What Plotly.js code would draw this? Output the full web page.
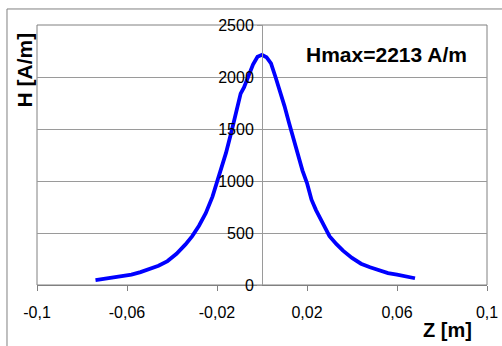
<!DOCTYPE html>
<html>
<head>
<meta charset="utf-8">
<script src="https://cdn.plot.ly/plotly-3.0.1.min.js"></script>
<style>html,body{margin:0;padding:0;background:#fff;}#chart{width:502px;height:346px;}</style>
</head>
<body>
<div id="chart"></div>
<script>
var zValues = [-0.074, -0.070, -0.066, -0.062, -0.058, -0.054, -0.050, -0.046, -0.042, -0.038, -0.034, -0.031, -0.028, -0.025, -0.022, -0.020, -0.018, -0.016, -0.0135, -0.011, -0.0095, -0.008, -0.006, -0.004, -0.002, 0, 0.002, 0.004, 0.006, 0.008, 0.010, 0.012, 0.014, 0.016, 0.018, 0.020, 0.022, 0.024, 0.026, 0.028, 0.030, 0.033, 0.036, 0.040, 0.044, 0.048, 0.052, 0.056, 0.060, 0.064, 0.068];
var hValues = [48, 60, 75, 85, 100, 124, 155, 185, 230, 300, 390, 470, 570, 690, 850, 990, 1120, 1270, 1480, 1700, 1840, 1900, 2000, 2120, 2195, 2213, 2190, 2130, 2000, 1870, 1720, 1560, 1400, 1250, 1100, 980, 820, 720, 640, 545, 470, 395, 330, 260, 205, 170, 140, 115, 100, 85, 65];
var xTickVals = [-0.1, -0.06, -0.02, 0.02, 0.06, 0.1];
var xTickText = ["-0,1", "-0,06", "-0,02", "0,02", "0,06", "0,1"];
var yTickVals = [0, 500, 1000, 1500, 2000, 2500];
var xTitle = "Z [m]";
var yTitle = "H [A/m]";
var note = "Hmax=2213 A/m";

var font = "Liberation Sans, Arial, sans-serif";
var trace = {
  x: zValues, y: hValues, type: "scatter", mode: "lines",
  line: {color: "#0000FF", width: 3.8}, hoverinfo: "none"
};
var layout = {
  width: 502, height: 346,
  margin: {l: 37, r: 15, t: 25, b: 61},
  paper_bgcolor: "#ffffff", plot_bgcolor: "#ffffff",
  showlegend: false,
  font: {family: font, size: 16, color: "#000"},
  xaxis: {
    range: [-0.1, 0.1], tickvals: xTickVals, ticktext: xTickText,
    showgrid: false, zeroline: false, showline: true, linecolor: "#808080", linewidth: 1,
    ticks: "outside", ticklen: 5, tickcolor: "#808080", ticklabelstandoff: 8,
    tickfont: {family: font, size: 16, color: "#000"}
  },
  yaxis: {
    range: [0, 2500], tickvals: yTickVals,
    anchor: "free", position: 0.5, side: "left",
    showgrid: true, gridcolor: "#9a9a9a", gridwidth: 1,
    zeroline: false, showline: true, linecolor: "#9a9a9a", linewidth: 1,
    ticks: "outside", ticklen: 5, tickcolor: "#9a9a9a",
    tickfont: {family: font, size: 16, color: "#000"}
  },
  shapes: [
    {type: "rect", xref: "paper", yref: "paper", x0: 0, x1: 1, y0: 0, y1: 1,
     line: {color: "#808080", width: 1}, layer: "below"},
    {type: "line", xref: "paper", yref: "paper", x0: -0.0667, x1: -0.0667, y0: -0.3, y1: 1.0616,
     line: {color: "#808080", width: 1}, layer: "below"},
    {type: "line", xref: "paper", yref: "paper", x0: -0.0667, x1: 1.1, y0: 1.0616, y1: 1.0616,
     line: {color: "#808080", width: 1}, layer: "below"}
  ],
  annotations: [
    {text: "<b>" + note + "</b>", xref: "paper", yref: "paper", x: 0.7756, y: 0.885,
     xanchor: "center", yanchor: "middle", showarrow: false,
     font: {family: font, size: 21, color: "#000"}},
    {text: "<b>" + xTitle + "</b>", xref: "paper", yref: "paper", x: 0.913, y: -0.174,
     xanchor: "center", yanchor: "middle", showarrow: false,
     font: {family: font, size: 20, color: "#000"}},
    {text: "<b>" + yTitle + "</b>", xref: "paper", yref: "paper", x: -0.0278, y: 0.827,
     xanchor: "center", yanchor: "middle", showarrow: false, textangle: -90,
     font: {family: font, size: 21, color: "#000"}}
  ]
};
Plotly.newPlot("chart", [trace], layout, {staticPlot: true, displayModeBar: false});
</script>
</body>
</html>
